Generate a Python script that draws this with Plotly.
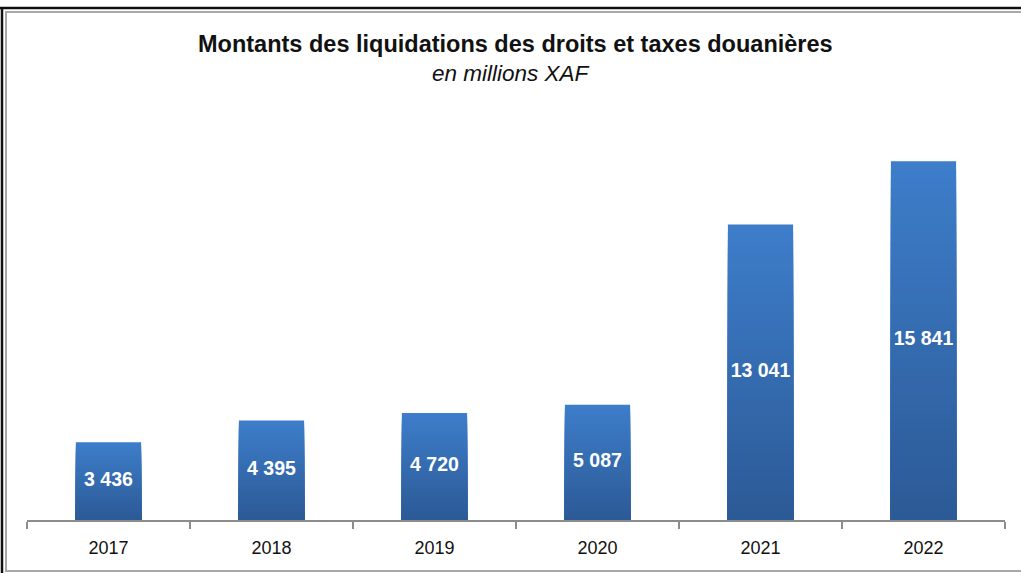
import plotly.graph_objects as go

# Montants des liquidations (millions XAF)
years = ["2017", "2018", "2019", "2020", "2021", "2022"]
amounts = [3436, 4395, 4720, 5087, 13041, 15841]

title_text = "Montants des liquidations des droits et taxes douanières"
subtitle_text = "en millions XAF"

TOP_RGB = (61, 125, 202)
BOTTOM_RGB = (44, 90, 150)
STEPS = 40


def mix(a, b, t):
    return "rgb({},{},{})".format(*[round(a[i] + (b[i] - a[i]) * t) for i in range(3)])


fig = go.Figure()

# Vertical gradient per bar: overlaid bars of shrinking height, light to dark
for k in range(STEPS):
    frac = (STEPS - k) / STEPS
    fig.add_trace(go.Bar(
        x=years,
        y=[v * frac for v in amounts],
        marker=dict(color=mix(TOP_RGB, BOTTOM_RGB, k / (STEPS - 1)), line=dict(width=0)),
        width=0.4,
        hoverinfo="skip",
        showlegend=False,
    ))

# Value labels centred in each bar
fig.add_trace(go.Scatter(
    x=years,
    y=[v / 2 for v in amounts],
    customdata=amounts,
    mode="text",
    texttemplate="<b>%{customdata:,.0f}</b>",
    textfont=dict(family="Liberation Sans, Arial", size=19.5, color="white"),
    hoverinfo="skip",
    showlegend=False,
))

# Plot area in pixels: x 27..1005, y 120..520
L, R, T, B = 27, 1005, 120, 520
W, H = R - L, B - T


def px(x):
    return (x - L) / W


def py(y):
    return (B - y) / H


frame = [
    # outer dark border (top and left)
    dict(x0=px(0), x1=px(1021), y0=py(8), y1=py(8), color="#111111", width=2.5),
    dict(x0=px(2), x1=px(2), y0=py(7), y1=py(573), color="#111111", width=2.5),
    # inner light border
    dict(x0=px(5), x1=px(1021), y0=py(12), y1=py(12), color="#a8a8a8", width=2),
    dict(x0=px(6), x1=px(6), y0=py(12), y1=py(571), color="#a8a8a8", width=2),
    dict(x0=px(5), x1=px(1021), y0=py(571), y1=py(571), color="#a8a8a8", width=2),
]
shapes = [
    dict(type="line", xref="paper", yref="paper", x0=f["x0"], x1=f["x1"], y0=f["y0"], y1=f["y1"],
         line=dict(color=f["color"], width=f["width"]), layer="above")
    for f in frame
]

fig.update_layout(
    width=1021,
    height=573,
    margin=dict(l=L, r=1021 - R, t=T, b=573 - B),
    paper_bgcolor="white",
    plot_bgcolor="white",
    barmode="overlay",
    separators=", ",
    shapes=shapes,
    annotations=[
        dict(text="<b>" + title_text + "</b>", xref="paper", yref="paper",
             x=px(515), y=py(44), xanchor="center", yanchor="middle", showarrow=False,
             font=dict(family="Liberation Sans, Arial", size=23.5, color="#111111")),
        dict(text="<i>" + subtitle_text + "</i>", xref="paper", yref="paper",
             x=px(511), y=py(73), xanchor="center", yanchor="middle", showarrow=False,
             font=dict(family="Liberation Sans, Arial", size=22.5, color="#111111")),
    ],
    xaxis=dict(
        type="category",
        showline=True, linecolor="#8c8c8c", linewidth=1.5,
        ticks="outside", tickson="boundaries", ticklen=7, tickcolor="#8c8c8c", tickwidth=1.5,
        ticklabelstandoff=11,
        tickfont=dict(family="Liberation Sans, Arial", size=18, color="#111111"),
        showgrid=False, zeroline=False, fixedrange=True,
    ),
    yaxis=dict(
        range=[0, H / 0.02265],
        visible=False, showgrid=False, zeroline=False, fixedrange=True,
    ),
)

fig.write_html("out.html")
